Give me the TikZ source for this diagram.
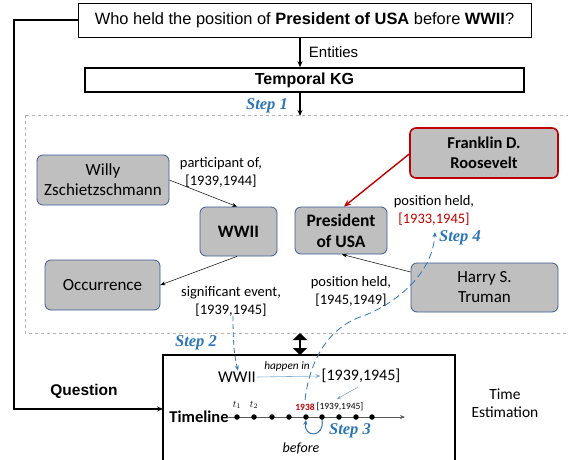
\documentclass[tikz,border=0pt]{standalone}
\usepackage{fontspec}
\setmainfont{Liberation Sans}
\newfontfamily\calfont{Carlito}
\newfontfamily\tnrfont{Liberation Serif}
\usetikzlibrary{arrows.meta}
\definecolor{stepblue}{RGB}{46,117,182}
\definecolor{kgred}{RGB}{192,0,0}
\definecolor{boxfill}{RGB}{191,191,191}
\definecolor{boxline}{RGB}{60,90,150}
\begin{document}
\begin{tikzpicture}[x=1pt,y=-1pt,
  kgbox/.style={draw=boxline,fill=boxfill,rounded corners=6pt,line width=0.8pt,align=center,font=\calfont\fontsize{17}{20}\selectfont,inner sep=0pt},
  kgbold/.style={font=\calfont\bfseries\fontsize{17.5}{21}\selectfont},
  elabel/.style={align=center,font=\calfont\fontsize{14.5}{18}\selectfont},
  steplab/.style={text=stepblue,font=\tnrfont\bfseries\itshape\fontsize{16.5}{18}\selectfont},
  thinarr/.style={-{Stealth[length=5pt,width=4pt]},line width=0.5pt},
  blk/.style={-{Stealth[length=6pt,width=5pt]},line width=1.3pt},
  dot/.style={circle,fill=black,inner sep=0pt,minimum size=5.5pt}]
\useasboundingbox (0,0) rectangle (568,459);
% question
\node[draw,line width=0.8pt,minimum width=453pt,minimum height=34pt,inner sep=0pt,font=\fontsize{16.4}{19}\selectfont] (q) at (304.5,20) {Who held the position of \textbf{President of USA} before \textbf{WWII}?};
\node[draw,line width=1.6pt,minimum width=439pt,minimum height=24pt,inner sep=0pt,font=\bfseries\fontsize{16}{18}\selectfont] (kg) at (304.5,80) {Temporal KG};
\draw[blk] (q.south -| 300,0) -- (kg.north -| 300,0) node[midway,right=5pt,font=\fontsize{15}{17}\selectfont] {Entities};
% dashed region
\draw[dashed,draw=gray!60,line width=0.6pt] (25,115) rectangle (568,333);
\coordinate (s1) at (300,116);
\draw[blk] (kg.south -| s1) -- (s1);
\node[steplab] (st1) at (267,106) {Step 1};
% KG nodes
\node[kgbox,minimum width=132pt,minimum height=50pt] (willy) at (103,180) {Willy\\Zschietzschmann};
\node[kgbox,kgbold,minimum width=77pt,minimum height=49pt] (wwii) at (238.5,231.5) {WWII};
\node[kgbox,minimum width=115pt,minimum height=50pt] (occ) at (102.5,285) {Occurrence};
\node[kgbox,kgbold,minimum width=92pt,minimum height=47pt] (pres) at (341,230.5) {President\\of USA};
\node[kgbox,kgbold,draw=kgred,line width=1.6pt,minimum width=148pt,minimum height=50pt,font=\calfont\bfseries\fontsize{16.5}{20}\selectfont] (fdr) at (484,153) {Franklin D.\\Roosevelt};
\node[kgbox,minimum width=147pt,minimum height=49pt] (hst) at (484.5,287.5) {Harry S.\\Truman};
% KG edges
\draw[thinarr] (willy.east |- 0,180) -- (wwii.north -| 237,0);
\draw[thinarr] (wwii.south -| 237,0) -- (occ.east |- 0,285);
\draw[-{Stealth[length=7pt,width=6pt]},kgred,line width=1.4pt] (fdr.west |- 0,154) -- (pres.north -| 344,0);
\draw[thinarr] (hst.west |- 0,272) -- (pres.south -| 342,0);
\node[elabel] (l1) at (221,172) {participant of,\\{}[1939,1944]};
\node[elabel] (l2) at (231,301) {significant event,\\{}[1939,1945]};
\node[elabel] (l3) at (434,210) {position held,\\\textcolor{kgred}{[1933,1945]}};
\node[elabel] (l4) at (351,291) {position held,\\{}[1945,1949]};
% double arrow
\coordinate (da) at (300,333);
\coordinate (db) at (300,355);
\draw[{Triangle[length=7pt,width=14pt]}-{Triangle[length=7pt,width=14pt]},line width=2.5pt] (da) -- (db);
% timeline box
\draw[line width=1.6pt] (163,470) -- (163,355) -- (455,355) -- (455,470);
\coordinate (tbl) at (163,409);
\draw[blk] (q.west) -- (14,20) -- (14,409) -- (tbl);
\node[font=\bfseries\fontsize{15.5}{17}\selectfont] (ql) at (84,391) {Question};
\node[font=\calfont\fontsize{15.5}{18}\selectfont,align=center] (te) at (505,403) {Time\\Estimation};
% inside box
\node[font=\calfont\fontsize{16.5}{18}\selectfont,inner sep=1pt] (w2) at (237,377) {WWII};
\node[font=\calfont\fontsize{16}{18}\selectfont,inner sep=1pt] (iv) at (361,376) {[1939,1945]};
\draw[-{Stealth[length=5pt,width=4pt]},draw=stepblue!60,line width=0.6pt] (w2.east) -- (iv.west);
\node[font=\calfont\itshape\fontsize{11.3}{13}\selectfont] (hi) at (287,366) {happen in};
\node[font=\calfont\bfseries\fontsize{16.5}{18}\selectfont] (tl) at (199,417) {Timeline};
\coordinate (ax0) at (227,417);
\coordinate (ax1) at (405,417);
\draw[-{Stealth[length=5pt,width=4pt]},draw=gray!70!black,line width=0.7pt] (ax0) -- (ax1);
\foreach \i/\x in {1/237,2/254,3/272,4/289,5/306,6/322,7/339,8/356,9/372}
  \node[dot] (d\i) at (\x,417) {};
\node[font=\fontsize{10}{11}\selectfont] (t1) at (237,405) {$t_1$};
\node[font=\fontsize{10}{11}\selectfont] (t2) at (254,405) {$t_2$};
\node[font=\calfont\bfseries\fontsize{9.5}{11}\selectfont,text=kgred] (y38) at (305,407) {1938};
\node[font=\calfont\fontsize{9.5}{11}\selectfont] (y39) at (340,407) {[1939,1945]};
\draw[-{Stealth[length=4pt,width=3pt]},draw=stepblue!70,line width=0.5pt] ([xshift=-3pt,yshift=-3pt]iv.south) -- (337,399);
% step 3 loop
\draw[-{Stealth[length=5pt,width=4pt]},stepblue,line width=1pt] (d6.south) .. controls (325,438) and (303,438) .. (d5.south);
\node[steplab] (st3) at (350,431) {Step 3};
\node[font=\calfont\itshape\fontsize{14}{16}\selectfont] (bf) at (301,448) {before};
% step 2
\coordinate (s2a) at (233,316);
\draw[-{Stealth[length=5pt,width=4pt]},stepblue,line width=0.8pt,dash pattern=on 5pt off 3pt] (s2a) .. controls (233,340) and (234,355) .. (w2.north -| 238,0);
\node[steplab] (st2) at (196,343) {Step 2};
% step 4
\coordinate (s4b) at (435,232);
\draw[-{Stealth[length=5pt,width=4pt]},stepblue,line width=0.8pt,dash pattern=on 7pt off 4pt] (y38.north) .. controls (309,365) and (325,330) .. (360,317) .. controls (385,309) and (432,280) .. (s4b);
\node[steplab] (st4) at (460,238) {Step 4};
\end{tikzpicture}
\end{document}
